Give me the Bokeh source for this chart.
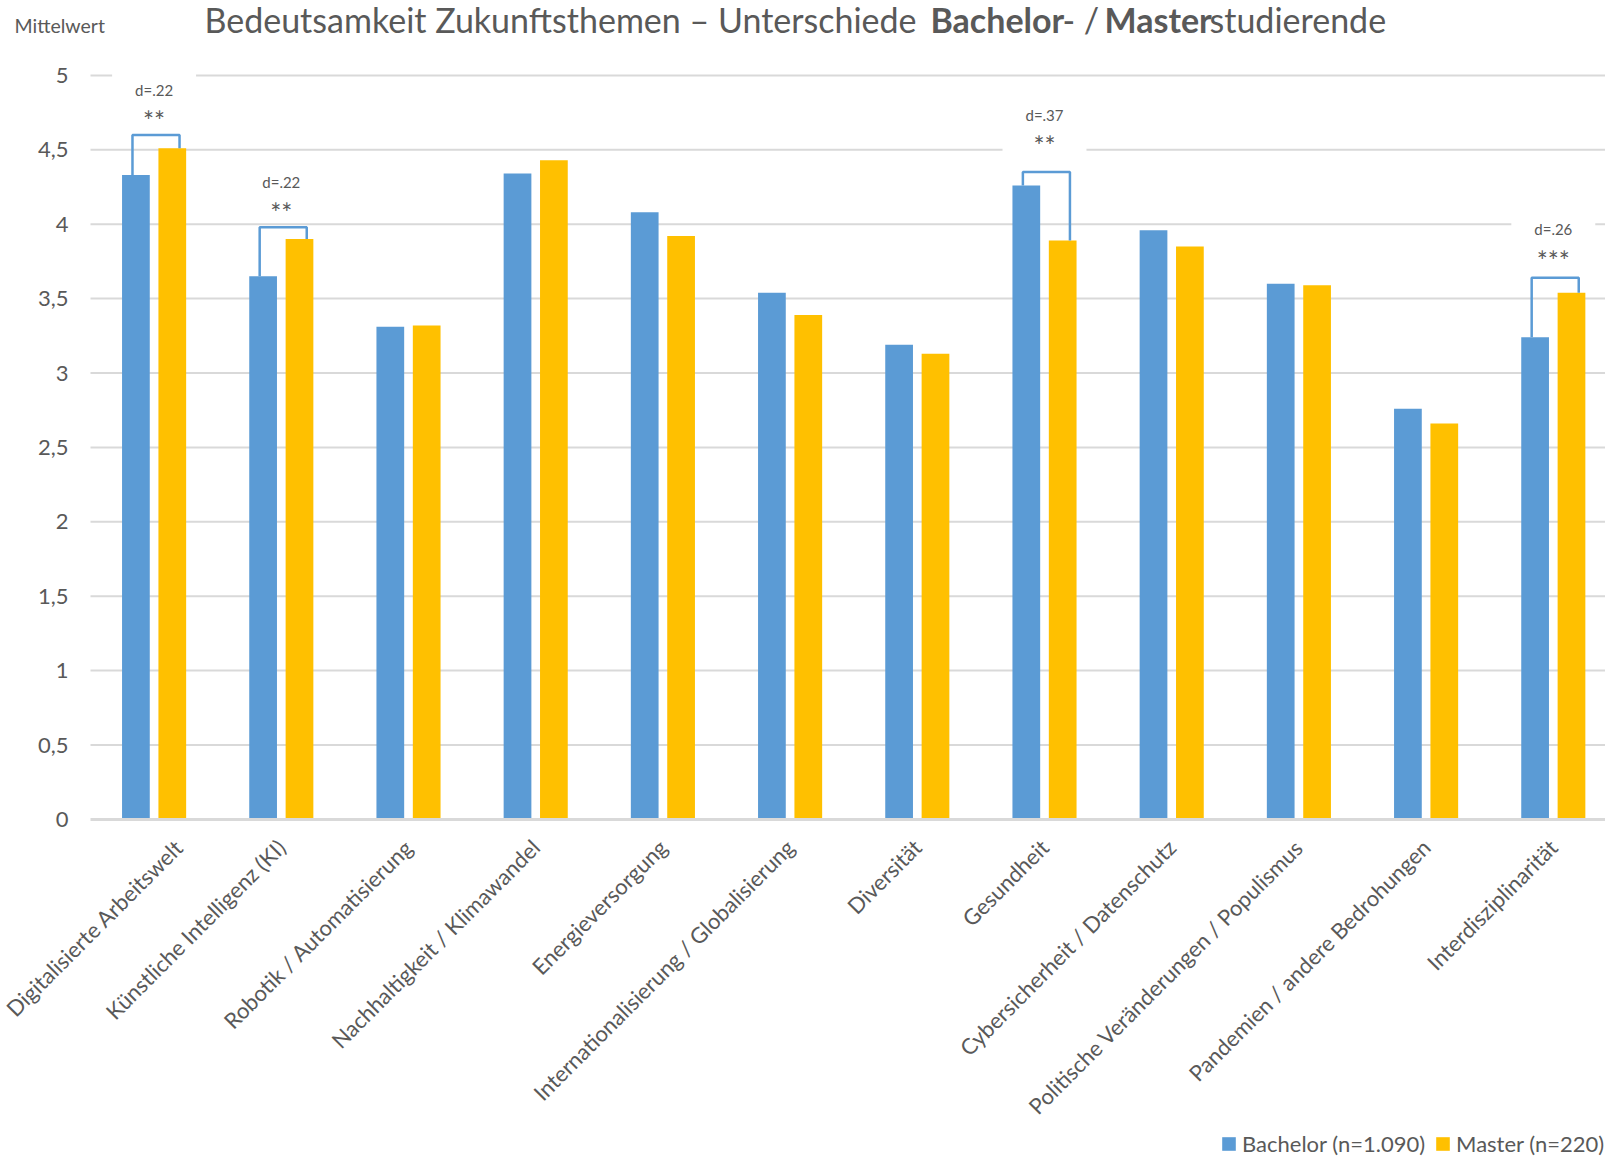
import math
from bokeh.plotting import figure
from bokeh.models import (Range1d, FixedTicker, CustomJSTickFormatter, Label,
                          Legend, LegendItem, ColumnDataSource)
from bokeh.core.properties import value
from bokeh.embed import file_html
from bokeh.resources import INLINE

# ---------------- data ----------------
categories = [
    "Digitalisierte Arbeitswelt",
    "Künstliche Intelligenz (KI)",
    "Robotik / Automatisierung",
    "Nachhaltigkeit / Klimawandel",
    "Energieversorgung",
    "Internationalisierung / Globalisierung",
    "Diversität",
    "Gesundheit",
    "Cybersicherheit / Datenschutz",
    "Politische Veränderungen / Populismus",
    "Pandemien / andere Bedrohungen",
    "Interdisziplinarität",
]
bachelor = [4.33, 3.65, 3.31, 4.34, 4.08, 3.54, 3.19, 4.26, 3.96, 3.60, 2.76, 3.24]
master = [4.51, 3.90, 3.32, 4.43, 3.92, 3.39, 3.13, 3.89, 3.85, 3.59, 2.66, 3.54]
series_names = ["Bachelor (n=1.090)", "Master (n=220)"]
y_ticks = [0, 0.5, 1, 1.5, 2, 2.5, 3, 3.5, 4, 4.5, 5]

# significance annotations
ann_index = [0, 1, 7, 11]
ann_effect = ["d=.22", "d=.22", "d=.37", "d=.26"]
ann_sig = ["**", "**", "**", "***"]
ann_bracket = [4.60, 3.98, 4.35, 3.64]
ann_label_y = [4.73, 4.11, 4.56, 3.79]

title_parts = ["Bedeutsamkeit Zukunftsthemen – Unterschiede", "Bachelor", "- /", "Master", "studierende"]
title_bold = [False, True, False, True, False]

# ---------------- style / layout ----------------
FONT = "Lato"
TXT = "#595959"
BLUE = "#5B9BD5"
GOLD = "#FFC000"
GRID = "#D9D9D9"
W, H = 1605, 1158
PX_LEFT, PX_ZERO = 90.0, 818.9      # pixel position of category start / value 0
PX_CAT, PX_UNIT = 127.2, 148.8      # pixels per category / per value unit
X0, X1 = -PX_LEFT / PX_CAT, (W - PX_LEFT) / PX_CAT
Y0, Y1 = -(H - PX_ZERO) / PX_UNIT, PX_ZERO / PX_UNIT
OFF = 0.143
BW = 0.218
n = len(categories)

p = figure(width=W, height=H, x_range=Range1d(X0, X1), y_range=Range1d(Y0, Y1),
           output_backend="svg", toolbar_location=None,
           min_border_left=0, min_border_right=0, min_border_top=0, min_border_bottom=0,
           outline_line_color=None, background_fill_color="white", border_fill_color="white")

p.xgrid.visible = False
p.ygrid.visible = False

ya = p.yaxis[0]
ya.fixed_location = 0
ya.bounds = (0, 5)
ya.ticker = FixedTicker(ticks=y_ticks)
ya.formatter = CustomJSTickFormatter(code="return tick.toString().replace('.', ',')")
ya.axis_line_color = None
ya.major_tick_line_color = None
ya.minor_tick_line_color = None
ya.major_tick_out = 0
ya.major_tick_in = 0
ya.major_label_text_font = FONT
ya.major_label_text_font_size = "22px"
ya.major_label_text_color = TXT
ya.major_label_standoff = 22

xa = p.xaxis[0]
xa.fixed_location = 0
xa.bounds = (0, X1)
xa.ticker = FixedTicker(ticks=[i + 0.5 for i in range(n)])
xa.formatter = CustomJSTickFormatter(args=dict(labels=categories),
                                     code="return labels[Math.floor(tick)]")
xa.major_label_orientation = math.pi / 4
xa.axis_line_color = GRID
xa.axis_line_width = 3
xa.major_tick_line_color = None
xa.minor_tick_line_color = None
xa.major_tick_out = 0
xa.major_tick_in = 0
xa.major_label_text_font = FONT
xa.major_label_text_font_size = "22px"
xa.major_label_text_color = TXT
xa.major_label_standoff = 24

# horizontal gridlines over the category area
gl = [t for t in y_ticks if t > 0]
p.segment(x0=[0] * len(gl), x1=[X1] * len(gl), y0=gl, y1=gl,
          line_color=GRID, line_width=2)

src = ColumnDataSource(dict(
    xb=[i + 0.5 - OFF for i in range(n)],
    xm=[i + 0.5 + OFF for i in range(n)],
    bachelor=bachelor, master=master))
rb = p.vbar(x="xb", top="bachelor", width=BW, source=src, fill_color=BLUE, line_color=None)
rm = p.vbar(x="xm", top="master", width=BW, source=src, fill_color=GOLD, line_color=None)

# annotation boxes, brackets, texts
cx = [i + 0.5 for i in ann_index]
p.quad(left=[c - 0.33 for c in cx], right=[c + 0.33 for c in cx],
       bottom=[b + 0.08 for b in ann_bracket], top=[y + 0.30 for y in ann_label_y],
       fill_color="white", line_color=None)
xs, ys = [], []
for k, i in enumerate(ann_index):
    c = i + 0.5
    xs.append([c - 0.17, c - 0.17, c + 0.2, c + 0.2])
    ys.append([bachelor[i], ann_bracket[k], ann_bracket[k], master[i]])
p.multi_line(xs=xs, ys=ys, line_color=BLUE, line_width=2.5)
p.text(x=cx, y=[y + 0.175 for y in ann_label_y], text=ann_effect, text_font=value(FONT),
       text_font_size="15px", text_color=TXT, text_align="center", text_baseline="middle")
p.text(x=cx, y=[y - 0.035 for y in ann_label_y], text=ann_sig, text_font=value(FONT),
       text_font_size="26px", text_color=TXT, text_align="center", text_baseline="middle")

# title pieces (pixel starts chained by the rendered piece widths)
title_px = [204, 930, 1062, 1104, 1209]
for t, b, px in zip(title_parts, title_bold, title_px):
    p.add_layout(Label(x=(px - PX_LEFT) / PX_CAT, y=(PX_ZERO - 19) / PX_UNIT, text=t,
                       text_font=FONT, text_font_size="34px",
                       text_color=TXT, text_font_style="bold" if b else "normal",
                       text_align="left", text_baseline="middle"))
p.add_layout(Label(x=(14 - PX_LEFT) / PX_CAT, y=(PX_ZERO - 25) / PX_UNIT, text="Mittelwert",
                   text_font=FONT, text_font_size="19.5px", text_color=TXT,
                   text_align="left", text_baseline="middle"))

legend = Legend(items=[LegendItem(label=series_names[0], renderers=[rb]),
                       LegendItem(label=series_names[1], renderers=[rm])],
                location=(1220, 1), orientation="horizontal",
                glyph_width=17, glyph_height=17, label_standoff=5, spacing=9,
                padding=0, margin=0, border_line_color=None, background_fill_alpha=0,
                label_text_font=FONT, label_text_font_size="22px", label_text_color=TXT)
p.add_layout(legend)

open("out.html", "w").write(file_html(p, INLINE))
